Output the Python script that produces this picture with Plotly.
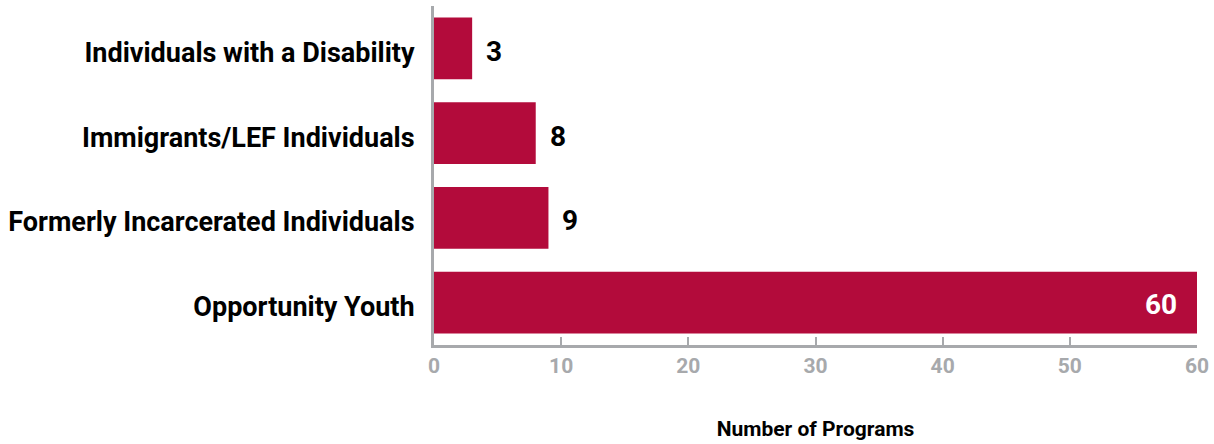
import plotly.graph_objects as go

categories = ["Opportunity Youth", "Formerly Incarcerated Individuals",
              "Immigrants/LEF Individuals", "Individuals with a Disability"]
values = [60, 9, 8, 3]
x_ticks = [0, 10, 20, 30, 40, 50, 60]

BAR = "#B30B3B"
GRAY = "#A7A9AC"
FONT = "Roboto"

fig = go.Figure(go.Bar(
    y=categories, x=values, orientation="h",
    marker=dict(color=BAR, line=dict(width=0)),
    width=0.73, hoverinfo="skip",
))

for c, v in zip(categories, values):
    if v >= 30:
        fig.add_annotation(x=v, y=c, text=f"<b>{v}</b>", showarrow=False,
                           xanchor="right", xshift=-18, yshift=-2,
                           font=dict(family=FONT, size=28, color="white"))
    else:
        fig.add_annotation(x=v, y=c, text=f"<b>{v}</b>", showarrow=False,
                           xanchor="left", xshift=12, yshift=-3,
                           font=dict(family=FONT, size=28, color="black"))

fig.update_layout(
    width=1214, height=444,
    margin=dict(l=434, r=17, t=6, b=99),
    paper_bgcolor="white", plot_bgcolor="white",
    showlegend=False,
    font=dict(family=FONT),
    xaxis=dict(
        range=[0, 60], tickvals=x_ticks, ticktext=[f"<b>{t}</b>" for t in x_ticks],
        showgrid=False, zeroline=False,
        showline=True, linecolor=GRAY, linewidth=3,
        ticks="inside", ticklen=8, tickwidth=2, tickcolor=GRAY,
        tickfont=dict(family=FONT, size=21, color=GRAY),
        title=dict(text="<b>Number of Programs</b>", standoff=45,
                   font=dict(family=FONT, size=21, color="black")),
        fixedrange=True,
    ),
    yaxis=dict(
        range=[-0.5, 3.5], showgrid=False, zeroline=False,
        showline=True, linecolor=GRAY, linewidth=3,
        ticks="", ticklabelstandoff=11, ticklabelshift=4,
        tickvals=categories, ticktext=[f"<b>{c}</b>" for c in categories],
        tickfont=dict(family=FONT, size=27, color="black"),
        fixedrange=True,
    ),
)

fig.write_html("out.html", config={"displayModeBar": False},
               post_script="document.body.style.margin='0px';")
